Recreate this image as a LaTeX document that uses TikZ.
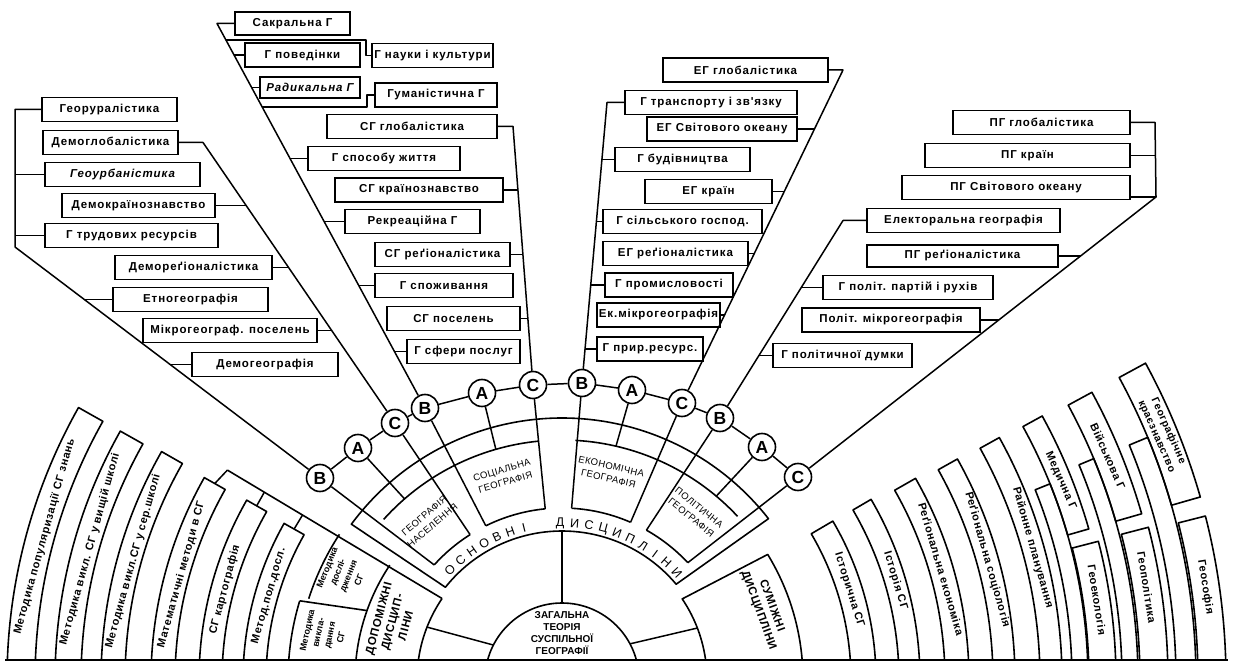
\documentclass[tikz,border=0pt]{standalone}
\usepackage{fontspec}
\setmainfont{Liberation Sans}
\newfontfamily\bxf{Liberation Sans}[LetterSpace=8]
\newfontfamily\stf{Liberation Sans}[LetterSpace=6]
\newfontfamily\spf{Liberation Sans}[LetterSpace=4]
\usetikzlibrary{calc}
\tikzset{
  ln/.style={line width=1.5pt, line join=round},
  sline/.style={line width=1.6pt, line join=round},
  bx/.style={draw, line width=1.6pt, fill=white, inner sep=2pt, minimum height=24pt,
     font=\bxf\bfseries\fontsize{11.5}{13}\selectfont},
  circ/.style={circle, draw, line width=1.6pt, fill=white, minimum size=27pt, inner sep=0pt,
     font=\bfseries\fontsize{17.5}{17.5}\selectfont},
  stxt/.style={font=\stf\bfseries\fontsize{11}{14}\selectfont, inner sep=0pt},
  smtxt/.style={font=\bfseries\fontsize{9}{11.5}\selectfont, align=center, inner sep=0pt},
  dtxt/.style={font=\spf\fontsize{9.5}{12.5}\selectfont, align=center, inner sep=0pt},
  ltr/.style={font=\spf\fontsize{12.5}{12.5}\selectfont, inner sep=0pt},
}
\begin{document}
\begin{tikzpicture}[x=1pt,y=1pt]
\useasboundingbox (0,0) rectangle (1233,664);
\fill[white] (0,0) rectangle (1233,664);

% ---------------- circles ----------------
\node[circ] (B1) at (320,186) {B};
\node[circ] (A1) at (358,216) {A};
\node[circ] (C1) at (395,241) {C};
\node[circ] (B2) at (425,256) {B};
\node[circ] (A2) at (482,271) {A};
\node[circ] (C2) at (533,279) {C};
\node[circ] (B3) at (582,281) {B};
\node[circ] (A3) at (632,274) {A};
\node[circ] (C3) at (682,261) {C};
\node[circ] (B4) at (720,246) {B};
\node[circ] (A4) at (762,217) {A};
\node[circ] (C4) at (798,187) {C};
\draw[ln] (B1)--(A1)--(C1)--(B2)--(A2)--(C2)--(B3)--(A3)--(C3)--(B4)--(A4)--(C4);

% ---------------- left fans ----------------
\node[bx, minimum width=135] (g1) at (109.5,554.5) {Георуралістика};
\node[bx, minimum width=135] (d1) at (110.5,521.5) {Демоглобалістика};
\node[bx, minimum width=155] (g2) at (122.5,489.5) {\itshape Геоурбаністика};
\node[bx, minimum width=153] (d2) at (138.5,458.5) {Демокраїнознавство};
\node[bx, minimum width=173] (g3) at (131.5,428.5) {Г трудових ресурсів};
\node[bx, minimum width=157] (d3) at (193.5,396.5) {Демореґіоналістика};
\node[bx, minimum width=155] (g4) at (190.5,364.5) {Етногеографія};
\node[bx, minimum width=174] (d4) at (230,333.5) {Мікрогеограф. поселень};
\node[bx, minimum width=146] (g5) at (265,299.5) {Демогеографія};
\coordinate (k1) at (15,417);
\coordinate (k1t) at (15,554.5);
\draw[ln] (B1) -- (k1) -- (k1t) -- (g1.west);
\draw[ln] (g2.west -| k1) -- (g2.west);
\draw[ln] (g3.west -| k1) -- (g3.west);
\coordinate (j14) at (84.3,364.5);
\coordinate (j15) at (170.1,299.5);
\draw[ln] (j14) -- (g4.west);
\draw[ln] (j15) -- (g5.west);
\coordinate (k2) at (203,521.5);
\draw[ln] (C1) -- (k2) -- (d1.east);
\coordinate (j22) at (246.1,458.5);
\coordinate (j23) at (288.6,396.5);
\coordinate (j24) at (331.7,333.5);
\draw[ln] (j22) -- (d2.east);
\draw[ln] (j23) -- (d3.east);
\draw[ln] (j24) -- (d4.east);

% ---------------- B2 fan ----------------
\node[bx, minimum width=115, minimum height=23] (s1) at (292.5,640.5) {Сакральна Г};
\node[bx, minimum width=115] (s2) at (302.5,609) {Г поведінки};
\node[bx, minimum width=121] (s3) at (432.5,608.5) {Г науки і культури};
\node[bx, minimum width=100, minimum height=21] (s4) at (310,576.5) {\itshape Радикальна Г};
\node[bx, minimum width=122] (s5) at (436,569) {Гуманістична Г};
\node[bx, minimum width=152] (s6) at (384,505.5) {Г способу життя};
\node[bx, minimum width=135] (s7) at (412.5,442.5) {Рекреаційна Г};
\node[bx, minimum width=138] (s8) at (444,378.5) {Г споживання};
\node[bx, minimum width=113] (s9) at (463.5,312.5) {Г сфери послуг};
\coordinate (k3) at (217,640.5);
\draw[ln] (B2) -- (k3) -- (s1.west);
\coordinate (j32) at (234,609);
\coordinate (j33) at (225.9,624);
\coordinate (j33a) at (366,624);
\coordinate (j34) at (251.6,576.5);
\coordinate (j35) at (262.2,557);
\coordinate (j35a) at (367,557);
\coordinate (j36) at (290,505.5);
\coordinate (j37) at (324.1,442.5);
\coordinate (j38) at (358.7,378.5);
\coordinate (j39) at (394.4,312.5);
\draw[ln] (j32) -- (s2.west);
\draw[ln] (j33) -- (j33a) -- (j33a |- s3.west) -- (s3.west);
\draw[ln] (j34) -- (s4.west);
\draw[ln] (j35) -- (j35a) -- (j35a |- s5.west) -- (s5.west);
\draw[ln] (j36) -- (s6.west);
\draw[ln] (j37) -- (s7.west);
\draw[ln] (j38) -- (s8.west);
\draw[ln] (j39) -- (s9.west);

% ---------------- C2 fan ----------------
\node[bx, minimum width=170] (c1) at (412,537.5) {СГ глобалістика};
\node[bx, minimum width=168] (c2) at (419,474) {СГ країнознавство};
\node[bx, minimum width=135] (c3) at (442.5,409.5) {СГ реґіоналістика};
\node[bx, minimum width=133] (c4) at (453.5,345.5) {СГ поселень};
\coordinate (k4) at (513,537.5);
\draw[ln] (C2) -- (k4) -- (c1.east);
\coordinate (j42) at (517.9,474);
\coordinate (j43) at (522.9,409.5);
\coordinate (j44) at (527.9,345.5);
\draw[ln] (j42) -- (c2.east);
\draw[ln] (j43) -- (c3.east);
\draw[ln] (j44) -- (c4.east);

% ---------------- B3 fan ----------------
\node[bx, minimum width=172] (e1) at (711,561.5) {Г транспорту і зв'язку};
\node[bx, minimum width=135] (e2) at (682.5,504.5) {Г будівництва};
\node[bx, minimum width=159] (e3) at (682.5,442.5) {Г сільського господ.};
\node[bx, minimum width=128] (e4) at (669,379) {Г промисловості};
\node[bx, minimum width=106] (e5) at (650,315) {Г прир.ресурс.};
\coordinate (k5) at (607,561.5);
\draw[ln] (B3) -- (k5) -- (e1.west);
\coordinate (j52) at (601.9,504.5);
\coordinate (j53) at (596.4,442.5);
\coordinate (j54) at (590.7,379);
\coordinate (j55) at (585,315);
\draw[ln] (j52) -- (e2.west);
\draw[ln] (j53) -- (e3.west);
\draw[ln] (j54) -- (e4.west);
\draw[ln] (j55) -- (e5.west);

% ---------------- C3 fan ----------------
\node[bx, minimum width=165] (f1) at (745.5,594) {ЕГ глобалістика};
\node[bx, minimum width=150] (f2) at (722,535) {ЕГ Світового океану};
\node[bx, minimum width=127] (f3) at (708.5,472.5) {ЕГ країн};
\node[bx, minimum width=145] (f4) at (675.5,410.5) {ЕГ реґіоналістика};
\node[bx, minimum width=123] (f5) at (658.5,349) {Ек.мікрогеографія};
\coordinate (k6) at (843,594);
\draw[ln] (C3) -- (k6) -- (f1.east);
\coordinate (j62) at (814.5,535);
\coordinate (j63) at (784.3,472.5);
\coordinate (j64) at (754.3,410.5);
\coordinate (j65) at (724.5,349);
\draw[ln] (j62) -- (f2.east);
\draw[ln] (j63) -- (f3.east);
\draw[ln] (j64) -- (f4.east);
\draw[ln] (j65) -- (f5.east);

% ---------------- B4 fan ----------------
\node[bx, minimum width=193] (p1) at (963.5,443.5) {Електоральна географія};
\node[bx, minimum width=170] (p2) at (908,376.5) {Г політ. партій і рухів};
\node[bx, minimum width=139] (p3) at (842.5,308.5) {Г політичної думки};
\coordinate (k7) at (843,443.5);
\draw[ln] (B4) -- (k7) -- (p1.west);
\coordinate (j72) at (801.3,376.5);
\coordinate (j73) at (758.9,308.5);
\draw[ln] (j72) -- (p2.west);
\draw[ln] (j73) -- (p3.west);

% ---------------- C4 fan ----------------
\node[bx, minimum width=177] (q1) at (1041.5,541.5) {ПГ глобалістика};
\node[bx, minimum width=205] (q2) at (1027.5,508.5) {ПГ країн};
\node[bx, minimum width=228] (q3) at (1016,476.5) {ПГ Світового океану};
\node[bx, minimum width=191, minimum height=22] (q4) at (962.5,408) {ПГ реґіоналістика};
\node[bx, minimum width=178] (q5) at (891,344) {Політ. мікрогеографія};
\coordinate (k8) at (1155,541.5);
\coordinate (k9) at (1156,467);
\draw[ln] (C4) -- (k9) -- (k8) -- (q1.east);
\coordinate (j82) at (1155.5,508.5);
\coordinate (j84) at (1080.6,408);
\coordinate (j85) at (998.7,344);
\draw[ln] (j82) -- (q2.east);
\draw[ln] (k9) -- (q3.east |- k9);
\draw[ln] (j84) -- (q4.east);
\draw[ln] (j85) -- (q5.east);

% ---------------- bottom fan ----------------
\begin{scope}
\clip (0,4) rectangle (1233,664);
\begin{scope}[shift={(562,-16)}]
 % central disc
 \draw[sline] (0,0) circle[radius=77];
 \node[font=\bfseries\fontsize{10}{12}\selectfont, align=center, inner sep=0pt] (gen) at (0,47)
   {ЗАГАЛЬНА\\ТЕОРІЯ\\СУСПІЛЬНОЇ\\ГЕОГРАФІЇ};
 \draw[ln] (153:77) -- (158.6:145);
 \draw[ln] (90:77) -- (90:149);
 \draw[ln] (28:77) -- (21:145);
 % auxiliary disciplines
 \coordinate (sp0) at (145.8:145);
 \coordinate (sp1) at (147.9:395);
 \draw[sline] (sp0) -- (sp1);
 \draw[sline] (146.3:207) arc[start angle=146.3,end angle=200,radius=207];
 \draw[sline] (sp0) arc[start angle=145.8,end angle=200,radius=145];
 \node[font=\stf\bfseries\fontsize{11.5}{14}\selectfont, inner sep=0pt, align=center, rotate=75] (dop) at (-170,58) {ДОПОМІЖНІ\\ДИСЦИП-\\ЛІНИ};
 \draw[sline] (146.8:266) arc[start angle=146.8,end angle=162.2,radius=266];
 \draw[sline] (163.2:274) -- (160.4:207);
 \draw[sline] (163.2:274) arc[start angle=163.2,end angle=200,radius=274];
 \node[smtxt, rotate=68] (mdos) at (-219,106) {Методика\\дослі-\\дження\\СГ};
 \node[smtxt, rotate=78] (mvyk) at (-238,46) {Методика\\викла-\\дання\\СГ};
 \foreach \ri/\ro/\t in {527/555/150.6, 481/507/150.6, 437/461/150.3, 387/411/150.5, 340/363/150.3, 296/319/150.6}
   \draw[sline] (200:\ri) arc[start angle=200,end angle=\t,radius=\ri] -- (\t:\ro) arc[start angle=\t,end angle=200,radius=\ro];
 \draw[ln] (sp1) -- (150.5:399);
 \draw[ln] ($(sp0)!0.828!(sp1)$) -- (150.3:351.5);
 \draw[ln] ($(sp0)!0.65!(sp1)$) -- (150.6:307.5);
 \node[stxt, rotate=74.5] (lm1) at (164.5:537) {Методика популяризації СГ знань};
 \node[stxt, rotate=74.5] (lm2) at (164.5:490) {Методика викл. СГ у вищій школі};
 \node[stxt, rotate=74.5] (lm3) at (164.5:445) {Методика викл.СГ у сер.школі};
 \node[stxt, rotate=74.5] (lm4) at (164.5:395) {Математичні методи в СГ};
 \node[stxt, rotate=75] (lm5) at (165:349) {СГ картографія};
 \node[stxt, rotate=74] (lm6) at (164:305) {Метод.пол.досл.};
 % adjacent disciplines
 \draw[sline] (-20:145) arc[start angle=-20,end angle=34,radius=145] -- (31.4:241) arc[start angle=31.4,end angle=-20,radius=241];
 \node[font=\stf\bfseries\fontsize{11.5}{14}\selectfont, inner sep=0pt, rotate=-70, align=center] (sum) at (203,72) {СУМІЖНІ\\ДИСЦИПЛІНИ};
 \foreach \ri/\ro/\t in {289/314/30.4, 337/358/30.3, 383/407/29.7, 431/453/29.2, 478/500/29, 510/526/21.9, 560/576/22.6, 614/634/22.5, 527/554/14.5, 578/606/14.6, 636/664/14.3}
   \draw[sline] (-20:\ri) arc[start angle=-20,end angle=\t,radius=\ri] -- (\t:\ro) arc[start angle=\t,end angle=-20,radius=\ro];
 \foreach \ri/\ro/\t in {526/548/28.8, 576/603/28.5, 634/664/28.5}
   \draw[sline] (16:\ri) arc[start angle=16,end angle=\t,radius=\ri] -- (\t:\ro) arc[start angle=\t,end angle=16,radius=\ro] -- cycle;
 \node[stxt, rotate=-72.6] (r1) at (17.4:301) {Історична СГ};
 \node[stxt, rotate=-73.4] (r2) at (16.6:348) {Історія СГ};
 \node[stxt, rotate=-73.7] (r3) at (16.3:395) {Реґіональна економіка};
 \node[stxt, rotate=-74.2] (r4) at (15.8:442) {Реґіональна соціологія};
 \node[stxt, rotate=-74.3] (r5) at (15.7:489) {Районне планування};
 \node[stxt, rotate=-66] (r6) at (21.8:537) {Медична Г};
 \node[stxt, rotate=-66] (r7) at (22.3:590) {Військова Г};
 \node[stxt, rotate=-66, align=center, font=\stf\bfseries\fontsize{10.5}{13}\selectfont] (r8) at (22.3:649) {Географічне\\краєзнавство};
 \node[stxt, rotate=-81] (r9) at (8.5:541) {Геоекологія};
 \node[stxt, rotate=-81] (r10) at (9:592) {Геополітика};
 \node[stxt, rotate=-81] (r11) at (8.2:650) {Геософія};
 % main disciplines band
 \draw[sline] (141.5:149) arc[start angle=141.5,end angle=40,radius=149] -- (38:262) arc[start angle=38,end angle=143.5,radius=262] -- cycle;
 \draw[sline] (138:172) arc[start angle=138,end angle=122.3,radius=172];
 \draw[sline] (116.3:172) arc[start angle=116.3,end angle=95.6,radius=172];
 \draw[sline] (86.8:172) arc[start angle=86.8,end angle=66.5,radius=172];
 \draw[sline] (60.6:172) arc[start angle=60.6,end angle=43,radius=172];
 \draw[sline] (138:240) arc[start angle=138,end angle=95.6,radius=240];
 \draw[sline] (86.8:240) arc[start angle=86.8,end angle=43,radius=240];
 \draw[ln] (B1) -- (138:172);
 \draw[ln] (A1) -- (131:240);
 \draw[ln] (C1) -- (122.3:172);
 \draw[ln] (B2) -- (116.3:172);
 \draw[ln] (A2) -- (106:240);
 \draw[ln] (C2) -- (95.6:172);
 \draw[ln] (B3) -- (86.8:172);
 \draw[ln] (A3) -- (77:240);
 \draw[ln] (C3) -- (66.5:172);
 \draw[ln] (B4) -- (60.6:172);
 \draw[ln] (A4) -- (50:240);
 \draw[ln] (C4) -- (43:172);
 \node[dtxt, rotate=40] (tgn) at (130:208) {ГЕОГРАФІЯ\\НАСЕЛЕННЯ};
 \node[dtxt, rotate=16] (tsg) at (106:212) {СОЦІАЛЬНА\\ГЕОГРАФІЯ};
 \node[dtxt, rotate=-13] (teg) at (77:213) {ЕКОНОМІЧНА\\ГЕОГРАФІЯ};
 \node[dtxt, rotate=-39] (tpg) at (51.5:214) {ПОЛІТИЧНА\\ГЕОГРАФІЯ};
 \foreach \l/\a [count=\i] in {О/135.5,С/130.25,Н/125,О/119.75,В/114.5,Н/109.25,І/104,Д/90.7,И/85.4,С/80.1,Ц/74.8,И/69.5,П/64.2,Л/58.9,І/53.6,Н/48.3,И/43}
   \node[ltr, rotate=\a-90] (os\i) at (\a:157) {\l};
\end{scope}
\end{scope}
\draw[line width=2pt] (5,4) -- (1228,4);
\end{tikzpicture}
\end{document}
